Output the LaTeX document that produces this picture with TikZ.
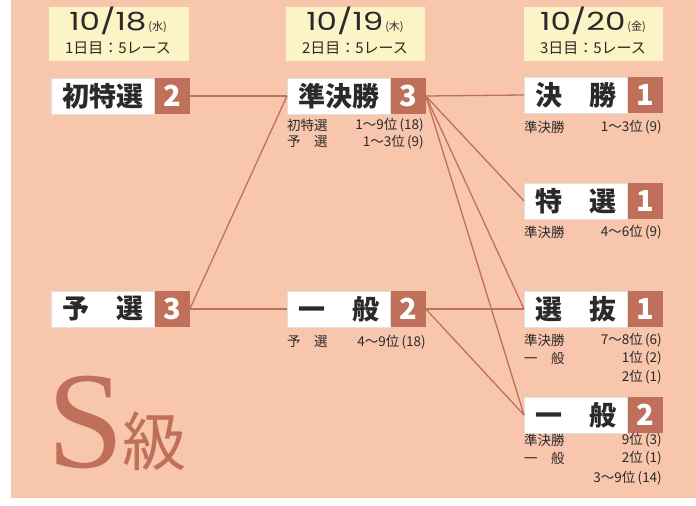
\documentclass[tikz,border=0pt]{standalone}
\usepackage{fontspec}
\newfontfamily\jp{Noto Sans CJK JP}
\newfontfamily\datefont{Poppins}[FakeStretch=1.3]
\newfontfamily\serifS{Liberation Serif}
\definecolor{panel}{HTML}{F8C5AD}
\definecolor{brick}{HTML}{C0705A}
\definecolor{datebg}{HTML}{FCF3C6}
\definecolor{ink}{HTML}{2A2A2A}
\tikzset{
  lab/.style={fill=white, draw=black!12, line width=0.4bp, minimum width=103bp, minimum height=36bp, inner sep=0pt,
    font=\jp\bfseries\fontsize{27bp}{27bp}\selectfont, text=ink, anchor=west},
  num/.style={fill=brick, minimum width=35bp, minimum height=36bp, inner sep=0pt,
    font=\jp\bfseries\fontsize{29bp}{29bp}\selectfont, text=white, anchor=west},
  link/.style={draw=brick, line width=1.3bp},
  note/.style={font=\jp\fontsize{13.5bp}{13.5bp}\selectfont, text=ink, inner sep=0pt},
  datebox/.style={fill=datebg, minimum width=139bp, minimum height=54bp, inner sep=0pt},
  datebig/.style={font=\datefont\fontsize{25bp}{25bp}\selectfont, text=ink, inner sep=0pt, anchor=base},
  datesmall/.style={font=\jp\fontsize{15bp}{15bp}\selectfont, text=ink, inner sep=0pt, anchor=base},
}
\newcommand{\dw}[1]{{\jp\fontsize{11bp}{11bp}\selectfont\,(#1)}}
\begin{document}
\begin{tikzpicture}[x=1bp, y=-1bp]
\useasboundingbox (0,0) rectangle (696,506);
\fill[white] (0,0) rectangle (696,506);
\fill[panel] (11,0) rectangle (696,498);

% date boxes
\node[datebox] (d1) at (119,34.5) {};
\node[datebox] (d2) at (355,34.5) {};
\node[datebox] (d3) at (593,34.5) {};
\node[datebig] (d1a) at (118,31) {10/18\dw{水}};
\node[datebig] (d2a) at (355,31) {10/19\dw{木}};
\node[datebig] (d3a) at (593,31) {10/20\dw{金}};
\node[datesmall] (d1b) at (118,54) {1日目：5レース};
\node[datesmall] (d2b) at (355,54) {2日目：5レース};
\node[datesmall] (d3b) at (593,54) {3日目：5レース};

% boxes
\node[lab] (shoto) at (51,96) {初特選};
\node[num] (shotoN) at (shoto.east) {2};
\node[lab] (yosen) at (51,309) {予　選};
\node[num] (yosenN) at (yosen.east) {3};
\node[lab] (jun) at (287,96) {準決勝};
\node[num] (junN) at (jun.east) {3};
\node[lab] (ippanM) at (287,309) {一　般};
\node[num] (ippanMN) at (ippanM.east) {2};
\node[lab] (kessho) at (524,95) {決　勝};
\node[num] (kesshoN) at (kessho.east) {1};
\node[lab] (tokusen) at (524,201) {特　選};
\node[num] (tokusenN) at (tokusen.east) {1};
\node[lab] (senbatsu) at (524,309) {選　抜};
\node[num] (senbatsuN) at (senbatsu.east) {1};
\node[lab] (ippanR) at (524,415) {一　般};
\node[num] (ippanRN) at (ippanR.east) {2};

% connectors
\draw[link] (shotoN.east) -- (jun.west);
\draw[link] (yosenN.east) -- (jun.west);
\draw[link] (yosenN.east) -- (ippanM.west);
\draw[link] (junN.east) -- (kessho.west);
\draw[link] (junN.east) -- (tokusen.west);
\draw[link] (junN.east) -- (senbatsu.west);
\draw[link] (junN.east) -- (ippanR.west);
\draw[link] (ippanMN.east) -- (senbatsu.west);
\draw[link] (ippanMN.east) -- (ippanR.west);

% notes
\node[note, anchor=west] (n1a) at (287,125) {初特選};
\node[note, anchor=east] (n1b) at (424,125) {1〜9位\,(18)};
\node[note, anchor=west] (n2a) at (287,142) {予　選};
\node[note, anchor=east] (n2b) at (424,142) {1〜3位\,(9)};
\node[note, anchor=west] (n3a) at (287,342) {予　選};
\node[note, anchor=east] (n3b) at (426,342) {4〜9位\,(18)};
\node[note, anchor=west] (n4a) at (524,127) {準決勝};
\node[note, anchor=east] (n4b) at (662,127) {1〜3位\,(9)};
\node[note, anchor=west] (n5a) at (524,232) {準決勝};
\node[note, anchor=east] (n5b) at (662,232) {4〜6位\,(9)};
\node[note, anchor=west] (n6a) at (524,340) {準決勝};
\node[note, anchor=east] (n6b) at (662,340) {7〜8位\,(6)};
\node[note, anchor=west] (n7a) at (524,358) {一　般};
\node[note, anchor=east] (n7b) at (662,358) {1位\,(2)};
\node[note, anchor=east] (n8b) at (662,377) {2位\,(1)};
\node[note, anchor=west] (n9a) at (524,440) {準決勝};
\node[note, anchor=east] (n9b) at (662,440) {9位\,(3)};
\node[note, anchor=west] (n10a) at (524,458) {一　般};
\node[note, anchor=east] (n10b) at (662,458) {2位\,(1)};
\node[note, anchor=east] (n11b) at (662,478) {3〜9位\,(14)};

% class label
\node[font=\serifS\fontsize{138bp}{138bp}\selectfont, text=brick, inner sep=0pt, anchor=base west] (S) at (47,467) {S};
\node[font=\jp\fontsize{64bp}{64bp}\selectfont, text=brick, inner sep=0pt, anchor=base west] (kyu) at (122,465) {級};
\end{tikzpicture}
\end{document}
